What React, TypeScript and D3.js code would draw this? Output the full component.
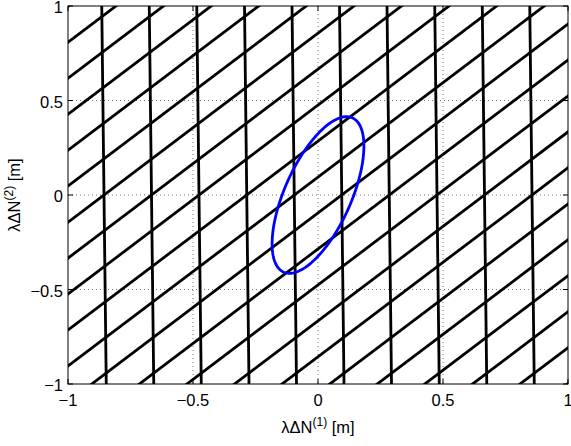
import React from "react";
import * as d3 from "d3";

// Axis ticks
const xTicks = [-1, -0.5, 0, 0.5, 1];
const yTicks = [-1, -0.5, 0, 0.5, 1];
const xTickLabels = ["\u22121", "\u22120.5", "0", "0.5", "1"];
const yTickLabels = ["\u22121", "\u22120.5", "0", "0.5", "1"];

// Near-vertical lines: x = intercept + tilt * y
const verticalIntercepts = [-0.856, -0.666, -0.476, -0.285, -0.095, 0.095, 0.285, 0.476, 0.666, 0.856];
const verticalTilt = [-0.009];

// Diagonal lines: y = x + intercept
const diagonalIntercepts = [
  -1.998, -1.808, -1.618, -1.427, -1.237, -1.047, -0.856, -0.666, -0.476, -0.2855, -0.095,
  0.095, 0.2855, 0.476, 0.666, 0.856, 1.047, 1.237, 1.427, 1.618, 1.808, 1.998,
];

// Ellipse (covariance-like matrix entries: [Pxx, Pxy, Pyy]) and center
const ellipseMatrix = [0.0337, 0.0474, 0.1718];
const ellipseCenter = [0, 0];

const W = 571;
const H = 446;
const M = { left: 68, right: 568, top: 6, bottom: 384 };
const FONT = "'Liberation Sans', Arial, Helvetica, sans-serif";

export default function App() {
  const x = d3.scaleLinear().domain([-1, 1]).range([M.left, M.right]);
  const y = d3.scaleLinear().domain([-1, 1]).range([M.bottom, M.top]);
  const line = d3
    .line<[number, number]>()
    .x((d) => x(d[0]))
    .y((d) => y(d[1]));

  const tilt = verticalTilt[0];
  const verticals = verticalIntercepts.map((c) => [
    [c + tilt * -1.3, -1.3],
    [c + tilt * 1.3, 1.3],
  ] as [number, number][]);
  const diagonals = diagonalIntercepts.map((c) => [
    [-1.3, -1.3 + c],
    [1.3, 1.3 + c],
  ] as [number, number][]);

  const [a, b, c] = ellipseMatrix;
  const sa = Math.sqrt(a);
  const l21 = b / sa;
  const l22 = Math.sqrt(c - l21 * l21);
  const ts = d3.range(0, 2 * Math.PI, Math.PI / 90);
  const ellipsePts = ts.map((t) => [
    ellipseCenter[0] + sa * Math.cos(t),
    ellipseCenter[1] + l21 * Math.cos(t) + l22 * Math.sin(t),
  ] as [number, number]);
  const ellipsePath = d3
    .line<[number, number]>()
    .x((d) => x(d[0]))
    .y((d) => y(d[1]))
    .curve(d3.curveLinearClosed)(ellipsePts);

  const tickLen = 5;
  const pw = M.right - M.left;
  const ph = M.bottom - M.top;

  return (
    <div style={{ position: "fixed", left: 0, top: 0, width: W, height: H, background: "#fff" }}>
      <svg width={W} height={H} style={{ display: "block" }}>
        <defs>
          <clipPath id="plotclip">
            <rect x={M.left} y={M.top} width={pw} height={ph} />
          </clipPath>
        </defs>
        <rect x={0} y={0} width={W} height={H} fill="#fff" />
        {/* grid */}
        <g stroke="#777" strokeWidth={1} strokeDasharray="1,3">
          {xTicks.slice(1, -1).map((t) => (
            <line key={"gx" + t} x1={x(t)} x2={x(t)} y1={M.top} y2={M.bottom} />
          ))}
          {yTicks.slice(1, -1).map((t) => (
            <line key={"gy" + t} x1={M.left} x2={M.right} y1={y(t)} y2={y(t)} />
          ))}
        </g>
        <g clipPath="url(#plotclip)" fill="none">
          <g stroke="#000" strokeWidth={2.8}>
            {verticals.map((d, i) => (
              <path key={"v" + i} d={line(d) || ""} />
            ))}
            {diagonals.map((d, i) => (
              <path key={"d" + i} d={line(d) || ""} />
            ))}
          </g>
          <path d={ellipsePath || ""} stroke="#0000ff" strokeWidth={2.8} fill="none" />
        </g>
        {/* ticks */}
        <g stroke="#000" strokeWidth={1}>
          {xTicks.map((t) => (
            <g key={"tx" + t}>
              <line x1={x(t)} x2={x(t)} y1={M.bottom} y2={M.bottom - tickLen} />
              <line x1={x(t)} x2={x(t)} y1={M.top} y2={M.top + tickLen} />
            </g>
          ))}
          {yTicks.map((t) => (
            <g key={"ty" + t}>
              <line x1={M.left} x2={M.left + tickLen} y1={y(t)} y2={y(t)} />
              <line x1={M.right} x2={M.right - tickLen} y1={y(t)} y2={y(t)} />
            </g>
          ))}
        </g>
        <rect x={M.left} y={M.top} width={pw} height={ph} fill="none" stroke="#000" strokeWidth={1} />
        {/* tick labels */}
        <g fontFamily={FONT} fontSize={16.5} fill="#000">
          {xTicks.map((t, i) => (
            <text key={"lx" + t} x={x(t)} y={M.bottom + 22} textAnchor="middle">
              {xTickLabels[i]}
            </text>
          ))}
          {yTicks.map((t, i) => (
            <text key={"ly" + t} x={M.left - 5} y={y(t) + 7} textAnchor="end">
              {yTickLabels[i]}
            </text>
          ))}
        </g>
        {/* axis titles */}
        <text x={x(0)} y={433} textAnchor="middle" fontFamily={FONT} fontSize={16.5} fill="#000">
          λΔN
          <tspan fontSize={12} dy={-7}>(1)</tspan>
          <tspan dy={7}> [m]</tspan>
        </text>
        <text
          transform={`translate(20,${y(0)}) rotate(-90)`}
          textAnchor="middle"
          fontFamily={FONT}
          fontSize={16.5}
          fill="#000"
        >
          λΔN
          <tspan fontSize={12} dy={-7}>(2)</tspan>
          <tspan dy={7}> [m]</tspan>
        </text>
      </svg>
    </div>
  );
}
